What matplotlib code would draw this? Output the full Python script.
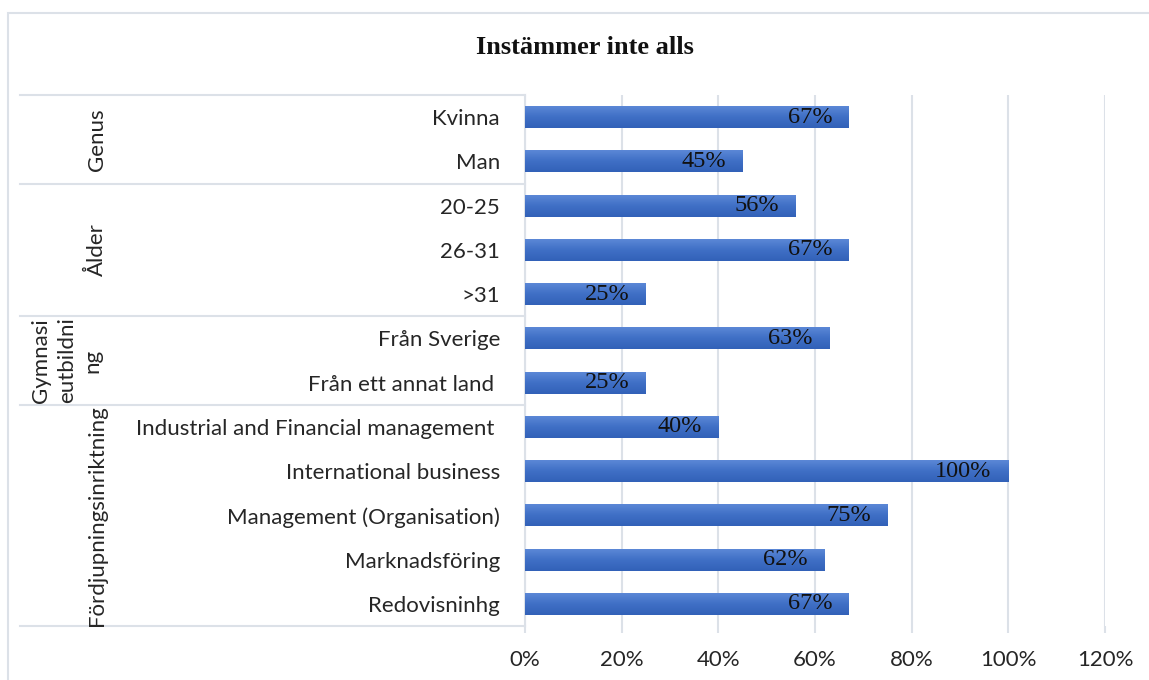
import numpy as np
import matplotlib.pyplot as plt
from matplotlib.patches import Rectangle
from matplotlib.colors import LinearSegmentedColormap
from matplotlib.transforms import blended_transform_factory

# data
categories = ['Kvinna', 'Man', '20-25', '26-31', '>31', 'Från Sverige',
              'Från ett annat land ', 'Industrial and Financial management ',
              'International business', 'Management (Organisation)',
              'Marknadsföring', 'Redovisninhg']
values = [0.67, 0.45, 0.56, 0.67, 0.25, 0.63, 0.25, 0.40, 1.00, 0.75, 0.62, 0.67]
value_labels = ['67%', '45%', '56%', '67%', '25%', '63%', '25%', '40%', '100%', '75%', '62%', '67%']
groups = ['Genus', 'Ålder', 'Gymnasi\neutbildni\nng', 'Fördjupningsinriktning']
group_sizes = [2, 3, 2, 5]
x_ticks = [0, 0.2, 0.4, 0.6, 0.8, 1.0, 1.2]
x_ticklabels = ['0%', '20%', '40%', '60%', '80%', '100%', '120%']
title = 'Instämmer inte alls'

W, H = 1149, 680
fig = plt.figure(figsize=(W / 100, H / 100), dpi=100)
ax = fig.add_axes([525 / W, 1 - 626 / H, (1105 - 525) / W, (626 - 95) / H])

grid_c = '#DCE1E8'
txt_c = '#262626'
sans = 'Lato'
serif = 'Liberation Serif'

ypos = list(range(len(categories)))
bars = ax.barh(ypos, values, height=0.5, color='#3E6DC5', zorder=3)

# light vertical gradient on the bars, like the Excel fill
cmap = LinearSegmentedColormap.from_list('bar', ['#5E8AD8', '#4070C6', '#3261B8'])
grad = np.linspace(0, 1, 64).reshape(-1, 1)
for b in bars:
    x, y, w, h = b.get_x(), b.get_y(), b.get_width(), b.get_height()
    im = ax.imshow(grad, cmap=cmap, aspect='auto', extent=(x, x + w, y + h, y),
                   zorder=3.5, interpolation='bilinear')
    im.set_clip_path(b)

for y, v, lab in zip(ypos, values, value_labels):
    ax.annotate(lab, (v, y), xytext=(-12, 0), textcoords='offset points',
                ha='right', va='center', fontsize=17.5, family=serif,
                color='#111111', zorder=4)

ax.set_xlim(0, 1.2)
ax.set_ylim(len(categories) - 0.5, -0.5)
ax.set_xticks(x_ticks)
ax.set_xticklabels(x_ticklabels, fontsize=16, family=sans, color=txt_c)
ax.set_yticks(ypos)
ax.set_yticklabels(categories, fontsize=16, family=sans, color=txt_c)
ax.tick_params(axis='y', length=0, pad=18)
ax.tick_params(axis='x', length=5, color=grid_c, width=1.5, pad=12)
ax.grid(axis='x', color=grid_c, linewidth=1.5, zorder=0)
for s in ['top', 'right', 'bottom']:
    ax.spines[s].set_visible(False)
ax.spines['left'].set_color(grid_c)
ax.spines['left'].set_linewidth(1.5)

# group table on the left
tr = blended_transform_factory(ax.transAxes, ax.transData)
x0 = (20 - 525) / (1105 - 525)
bounds = [-0.5]
for n in group_sizes:
    bounds.append(bounds[-1] + n)
for b in bounds:
    ax.plot([x0, 0], [b, b], transform=tr, color=grid_c, linewidth=1.5,
            clip_on=False, zorder=1)
label_x = [97, 97, 67, 97]
for g, lo, hi, lx in zip(groups, bounds[:-1], bounds[1:], label_x):
    ax.text((lx - 525) / (1105 - 525), (lo + hi) / 2, g, transform=tr,
            rotation=90, ha='center', va='center', multialignment='center',
            fontsize=16, family=sans, color=txt_c, linespacing=1.35)

fig.text(585 / W, 1 - 47 / H, title, ha='center', va='center',
         fontsize=19, fontweight='bold', family=serif, color='#111111')

# chart border
fig.patches.append(Rectangle((8 / W, -0.1), 1.2, 1 - 13 / H + 0.1,
                             transform=fig.transFigure, fill=False,
                             edgecolor=grid_c, linewidth=1.5))

fig.savefig('out.png', dpi=100)
